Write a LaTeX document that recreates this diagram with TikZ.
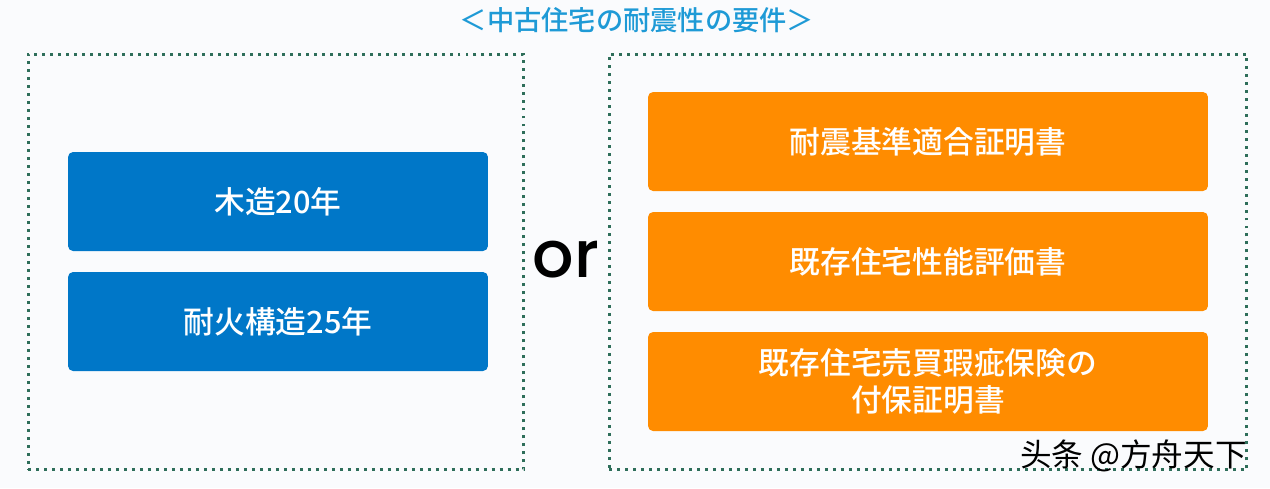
\documentclass[tikz,border=0pt]{standalone}
\usepackage{fontspec}
\setmainfont{Noto Sans CJK JP}
\newfontfamily\medfont{Noto Sans CJK JP}[UprightFont=* Medium]
\newfontfamily\latinfont{Poppins}[UprightFont=* Medium]
\newfontfamily\zhfont{Noto Sans CJK SC}
\usepackage{tikz}
\usetikzlibrary{positioning}
\definecolor{bgcol}{HTML}{FAFBFD}
\definecolor{titlecol}{HTML}{1E9AD6}
\definecolor{dotcol}{HTML}{2E6E5A}
\definecolor{bluebox}{HTML}{0077C8}
\definecolor{orangebox}{HTML}{FF8C00}
\tikzset{
  frame/.style={draw=dotcol,line width=1.7pt,dash pattern=on 1.7pt off 2.85pt,
    minimum height=8.32cm},
  pillar/.style={rounded corners=0.1cm,text=white,font=\medfont\fontsize{17.5}{21}\selectfont,
    minimum height=1.98cm,align=center,inner sep=0pt}
}
\begin{document}
\begin{tikzpicture}[x=0.02cm,y=-0.02cm]%
        \fill[bgcol] (0,0) rectangle (1270,488);%%
        \useasboundingbox (0,0) rectangle (1270,488);%%
        \node[text=titlecol,font=\medfont\fontsize{15.5}{18}\selectfont] (title) at (637,20) {＜中古住宅の耐震性の要件＞}; %%
        \node[frame,minimum width=9.92cm] (left) at (276,262) {}; %%
        \node[frame,minimum width=12.76cm] (right) at (928,262) {}; %%
        \begin{scope}[every node/.append style={pillar,fill=bluebox,minimum width=8.4cm}]
        \node (wood) at (278,201.5) {木造20年}; %%
        \node (fire) at (278,321.5) {耐火構造25年}; %%
        \end{scope}
        \begin{scope}[every node/.append style={pillar,fill=orangebox,minimum width=11.2cm}]
        \node (cert) at (928,141.5) {耐震基準適合証明書}; %%
        \node (eval) at (928,261.5) {既存住宅性能評価書}; %%
        \node (ins) at (928,381.5) {既存住宅売買瑕疵保険の\\付保証明書}; %%
        \end{scope}
        \node[font=\latinfont\fontsize{37}{40}\selectfont] (or) at (566,260) {or}; %%
        \node[font=\zhfont\fontsize{18}{20}\selectfont,anchor=east] (mark) at (1253,456) {头条 @方舟天下}; %%
\end{tikzpicture}
\end{document}
